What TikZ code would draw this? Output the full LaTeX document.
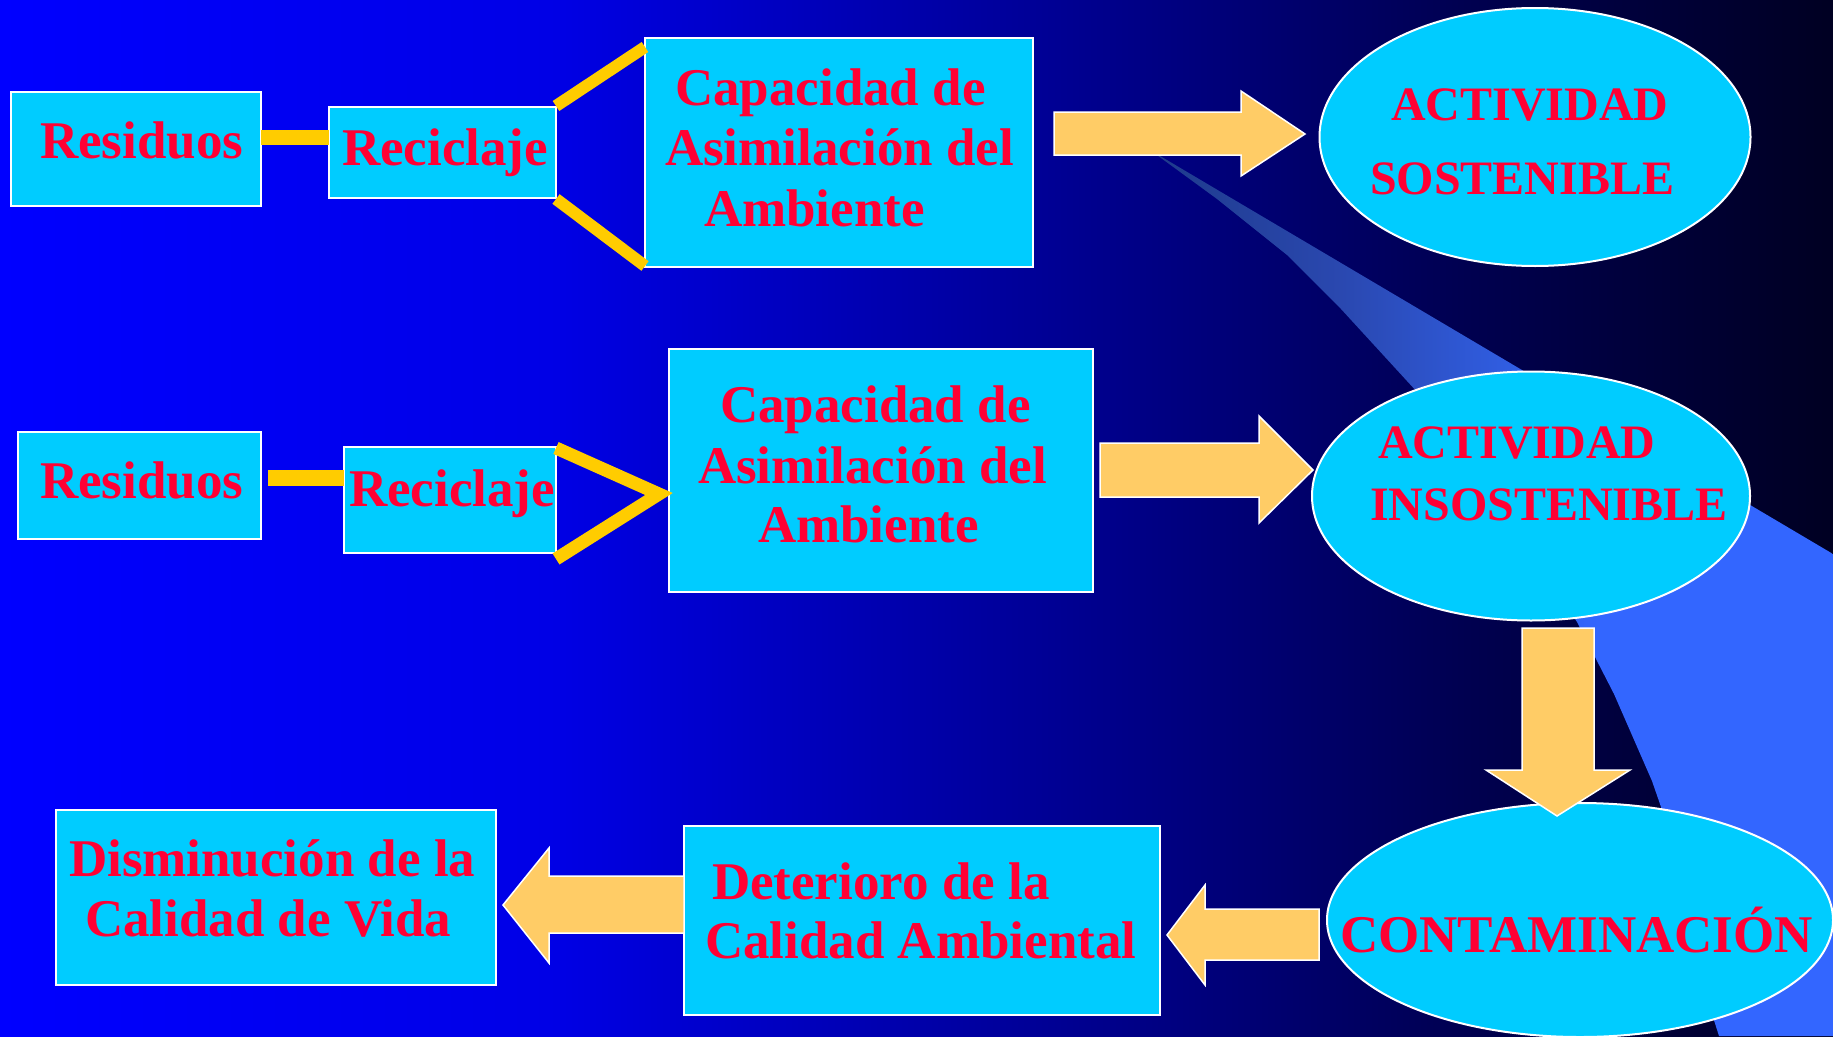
\documentclass[tikz,border=0pt]{standalone}
\usepackage{fontspec}
\setmainfont{Liberation Serif}
\usetikzlibrary{shapes.geometric}
\definecolor{bgA}{HTML}{0000FF}
\definecolor{bgB}{HTML}{0000E6}
\definecolor{bgC}{HTML}{00008C}
\definecolor{bgD}{HTML}{000050}
\definecolor{bgE}{HTML}{000022}
\definecolor{wA}{HTML}{1E3A8A}
\definecolor{wB}{HTML}{2A48B0}
\definecolor{wC}{HTML}{3160E8}
\definecolor{wD}{HTML}{3366FF}
\definecolor{boxc}{HTML}{00CCFF}
\definecolor{txtc}{HTML}{FF0033}
\definecolor{ylw}{HTML}{FFCC00}
\definecolor{arrc}{HTML}{FFCC66}
\pgfdeclarehorizontalshading{bgshade}{100bp}{color(0bp)=(bgA); color(25bp)=(bgA); color(40bp)=(bgB); color(55bp)=(bgC); color(65bp)=(bgD); color(75bp)=(bgE); color(100bp)=(bgE)}
\pgfdeclarehorizontalshading{wedgeshade}{100bp}{color(0bp)=(wA); color(25bp)=(wA); color(39bp)=(wB); color(53bp)=(wC); color(58bp)=(wD); color(100bp)=(wD)}
\tikzset{
  box/.style={rectangle, draw=white, line width=2pt, fill=boxc, inner sep=0pt, outer sep=0pt},
  oval/.style={ellipse, draw=white, line width=2pt, fill=boxc, inner sep=0pt, outer sep=0pt},
  lbl/.style={text=txtc, inner sep=0pt, outer sep=0pt, anchor=base west, font=\bfseries\fontsize{53}{61}\selectfont},
  lblsm/.style={lbl, font=\bfseries\fontsize{48}{58}\selectfont},
  yline/.style={draw=ylw, line width=#1},
  yline/.default=15pt,
  barrow/.style={fill=arrc, draw=white, line width=1.5pt, line join=miter},
}
\begin{document}
\begin{tikzpicture}[x=1pt, y=-1pt]
\path[use as bounding box, shading=bgshade] (0,0) rectangle (1833,1036);
% light band
\path[shading=wedgeshade] (1150,150) -- (1833,554) -- (1833,1036) -- (1719,1036)
  -- (1683,923) -- (1661,807) -- (1652,781) -- (1614,694) -- (1577,622)
  -- (1450,427) -- (1418,393) -- (1341,309) -- (1287,255) -- (1217,199) -- cycle;
% boxes
\node[box, minimum width=250, minimum height=114] (res1) at (136,149) {};
\node[box, minimum width=227, minimum height=91] (rec1) at (442.5,152.5) {};
\node[box, minimum width=388, minimum height=229] (cap1) at (839,152.5) {};
\node[box, minimum width=243, minimum height=107] (res2) at (139.5,485.5) {};
\node[box, minimum width=212, minimum height=106] (rec2) at (450,500) {};
\node[box, minimum width=424, minimum height=243] (cap2) at (881,470.5) {};
\node[box, minimum width=440, minimum height=175] (dis) at (276,897.5) {};
\node[box, minimum width=476, minimum height=189] (det) at (922,920.5) {};
% ellipses
\node[oval, minimum width=431, minimum height=258] (ell1) at (1535,137) {};
\node[oval, minimum width=438, minimum height=249] (ell2) at (1531,496) {};
\node[oval, minimum width=506, minimum height=234] (ell3) at (1580,920) {};
% yellow connectors
\coordinate (l1) at (0,137.5);
\coordinate (u1a) at (0,106);
\coordinate (u1b) at (0,47);
\coordinate (d1a) at (0,199);
\coordinate (d1b) at (0,266);
\coordinate (l2) at (0,478);
\coordinate (l2s) at (268,478);
\coordinate (c2a) at (0,448);
\coordinate (c2tip) at (659,494);
\coordinate (c2b) at (0,559);
\draw[yline] (res1.east |- l1) -- (rec1.west |- l1);
\draw[yline=12pt] (rec1.east |- u1a) -- (cap1.west |- u1b);
\draw[yline=12pt] (rec1.east |- d1a) -- (cap1.west |- d1b);
\draw[yline=16pt] (l2s) -- (rec2.west |- l2);
\draw[yline=13pt, line join=miter] (rec2.east |- c2a) -- (c2tip) -- (rec2.east |- c2b);
% block arrows
\draw[barrow] (1054,112) -- (1241,112) -- (1241,91) -- (1305,134) -- (1241,176) -- (1241,155) -- (1054,155) -- cycle;
\draw[barrow] (1100,443) -- (1259,443) -- (1259,416) -- (1313,470) -- (1259,523) -- (1259,497) -- (1100,497) -- cycle;
\draw[barrow] (1522,628) -- (1594,628) -- (1594,770) -- (1630,770) -- (1557,816) -- (1486,770) -- (1522,770) -- cycle;
\draw[barrow] (1319,909) -- (1205,909) -- (1205,885) -- (1167,935) -- (1205,985) -- (1205,960) -- (1319,960) -- cycle;
\draw[barrow] (684,876) -- (549,876) -- (549,848) -- (503,905) -- (549,963) -- (549,933) -- (684,933) -- cycle;
% texts
\node[lbl] (tres1) at (40,158) {Residuos};
\node[lbl] (trec1) at (342,165) {Reciclaje};
\node[lbl] (tcap1a) at (675,105) {Capacidad de};
\node[lbl] (tcap1b) at (665,165) {Asimilación del};
\node[lbl] (tcap1c) at (704,226) {Ambiente};
\node[lblsm] (tact1a) at (1391,120) {ACTIVIDAD};
\node[lblsm] (tact1b) at (1370,194) {SOSTENIBLE};
\node[lbl] (tres2) at (40,498) {Residuos};
\node[lbl] (trec2) at (349,506) {Reciclaje};
\node[lbl] (tcap2a) at (720,422) {Capacidad de};
\node[lbl] (tcap2b) at (698,483) {Asimilación del};
\node[lbl] (tcap2c) at (758,542) {Ambiente};
\node[lblsm] (tact2a) at (1378,458) {ACTIVIDAD};
\node[lblsm] (tact2b) at (1370,520) {INSOSTENIBLE};
\node[lbl] (tdisa) at (69,876) {Disminución de la};
\node[lbl] (tdisb) at (85,936) {Calidad de Vida};
\node[lbl] (tdeta) at (712,899) {Deterioro de la};
\node[lbl] (tdetb) at (705,958) {Calidad Ambiental};
\node[lbl] (tcont) at (1340,952) {CONTAMINACIÓN};
\end{tikzpicture}
\end{document}
